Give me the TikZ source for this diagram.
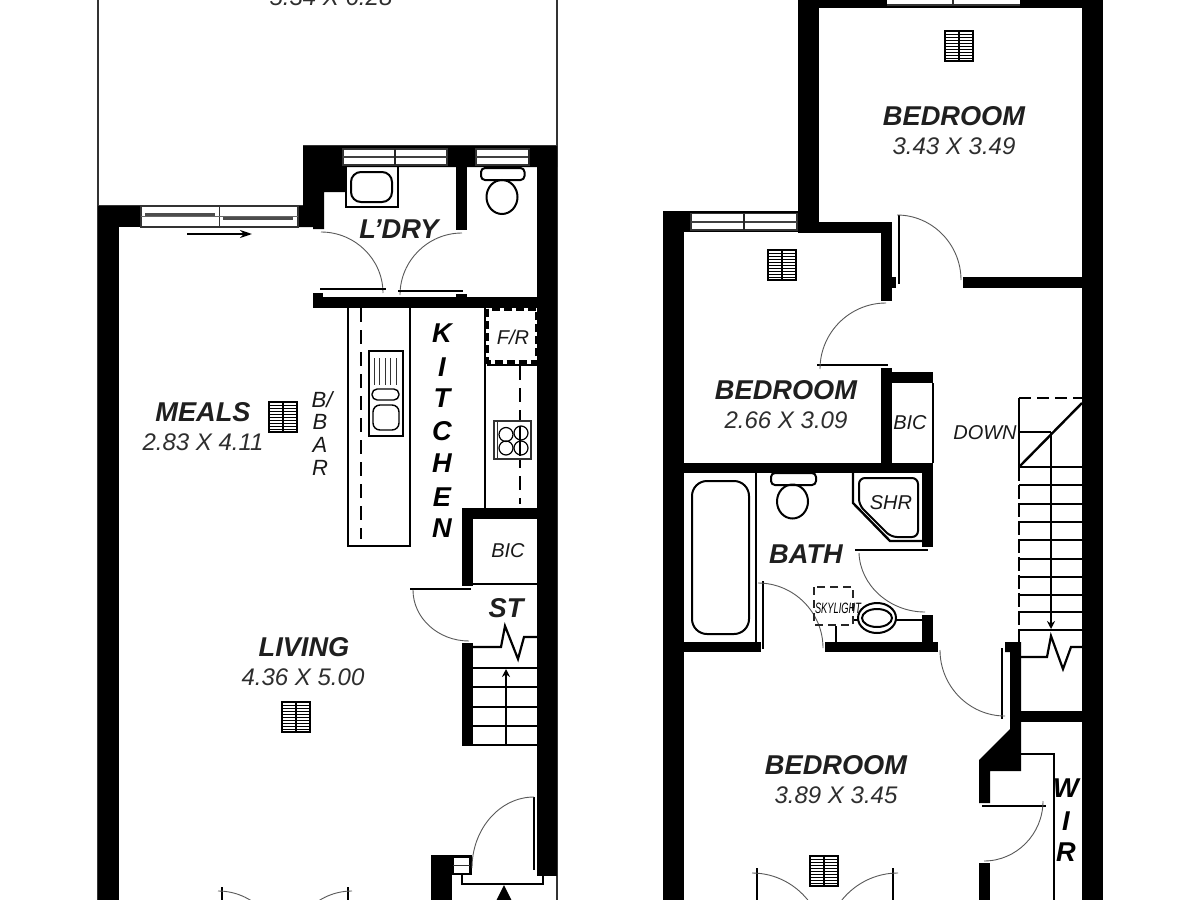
\documentclass[tikz,border=0pt]{standalone}
\usepackage{fontspec}
\setmainfont{Liberation Sans}
\usetikzlibrary{calc,arrows.meta}
\tikzset{
  x=0.5pt,y=-0.5pt,
  wall/.style={fill=black,draw=none},
  med line/.style={draw=black,line width=1pt},
  leaf/.style={draw=black,line width=1.4pt},
  swing/.style={draw=black!65,line width=0.45pt},
  outline/.style={draw=black!80,line width=0.6pt},
  room/.style={font=\fontsize{13.6}{14}\selectfont\bfseries\itshape,text=black!88,inner sep=0pt},
  dims/.style={font=\fontsize{12}{14}\selectfont\itshape,text=black!82,inner sep=0pt},
  small/.style={font=\fontsize{10}{12}\selectfont\itshape,text=black!90,inner sep=0pt},
  upright/.style={font=\fontsize{13.6}{14}\selectfont\bfseries\itshape,text=black,inner sep=0pt},
}
\newcommand{\swingarc}[3]{\draw[swing] (#1) .. controls ($(#1)!0.55!(#2)$) and ($(#3)!0.55!(#2)$) .. (#3);}
\newcommand{\vent}[2]{%
  \begin{scope}[shift={(#1,#2)}]
    \draw[black,line width=0.9pt,fill=white] (0,0) rectangle (28,30);
    \foreach \yy in {3,6,...,27} {\draw[black,line width=0.45pt] (0,\yy) -- (28,\yy);}
    \draw[black,line width=0.8pt] (14,0) -- (14,30);
  \end{scope}}
\newcommand{\winpane}[6]{% x1 y1 x2 y2 xdiv ymid
  \fill[white] (#1,#2) rectangle (#3,#4);
  \draw[outline] (#1,#2) rectangle (#3,#4);
  \draw[black!75,line width=0.8pt] (#1,#6) -- (#3,#6);
  \draw[black!85,line width=0.7pt] (#5,#2) -- (#5,#4);}
\begin{document}
\begin{tikzpicture}
\useasboundingbox (0,0) rectangle (1200,900);
\clip (0,0) rectangle (1200,900);
\fill[white] (0,0) rectangle (1200,900);

% ===== left plan =====
\draw[outline] (98,0) -- (98,900);
\draw[outline] (557,0) -- (557,900);
\draw[outline] (98,206) -- (303,206);
\draw[outline] (303,146) -- (557,146);
\fill[wall] (98,206) rectangle (141,227);
\fill[wall] (98,206) rectangle (119,900);
\fill[wall] (537,146) rectangle (557,876);
\fill[wall] (303,146) -- (557,146) -- (557,167) -- (346,167) -- (346,192) -- (324,192) -- (324,229) -- (313,229) -- (313,227) -- (298,227) -- (298,206) -- (303,206) -- cycle;
\fill[wall] (456,146) rectangle (467,230);
\fill[wall] (313,297) rectangle (538,308);
\fill[wall] (313,293) rectangle (323,297);
\fill[wall] (456,294) rectangle (467,297);
\winpane{343}{149}{447}{165}{395}{157}
\winpane{476}{149}{529}{165}{529}{157}
% sliding door
\draw[outline,fill=white] (141,206) rectangle (298,227);
\draw[outline] (219.5,206) -- (219.5,227);
\draw[black!60,line width=0.4pt] (141,216.5) -- (298,216.5);
\fill[black!70] (145,213) rectangle (215,216);
\fill[black!70] (223,217) rectangle (293,220);
\draw[black,line width=1.1pt,-{Stealth[length=6pt,width=4pt]}] (187,234) -- (252,234);
% laundry fixtures
\draw[black,line width=1.2pt] (346,167) -- (346,207) -- (398,207) -- (398,167);
\draw[med line,rounded corners=5pt] (351,172) rectangle (392,202);
\draw[med line,rounded corners=2pt,fill=white] (481,168) rectangle (524.5,180);
\draw[med line] (502,197) ellipse [x radius=15.5,y radius=17];
\coordinate (ld1p) at (321,232); \coordinate (ld1c) at (383,232); \coordinate (ld1q) at (383,293);
\swingarc{ld1p}{ld1c}{ld1q}
\coordinate (ld2p) at (462,233); \coordinate (ld2c) at (400,233); \coordinate (ld2q) at (400,295);
\swingarc{ld2p}{ld2c}{ld2q}
\draw[leaf] (320,289) -- (386,289);
\draw[leaf] (398,291) -- (463,291);
% kitchen
\draw[med line] (348,308) -- (348,546) -- (410,546) -- (410,308);
\draw[black,line width=1.4pt,dash pattern=on 7pt off 4pt] (361,308) -- (361,539);
\draw[black,line width=1.3pt] (369,351) rectangle (403,436);
\foreach \xx in {374,379,385,390,396} {\draw[black!80,line width=0.5pt] (\xx,358) -- (\xx,385);}
\draw[black,line width=0.7pt,rounded corners=2.6pt] (372,389) rectangle (399,400);
\draw[black,line width=0.7pt,rounded corners=3.5pt] (373,405) rectangle (399,430);
\draw[med line] (485,308) -- (485,510);
\draw[black,line width=1.6pt,dash pattern=on 4pt off 2pt] (487.5,309) rectangle (536.5,362);
\draw[med line] (487,364.5) -- (538,364.5);
\draw[black,line width=1.4pt,dash pattern=on 7pt off 4pt] (520,366) -- (520,504);
\draw[black!80,line width=0.6pt,fill=white] (494,421) rectangle (531,459);
\draw[black!80,line width=0.5pt] (497,421) -- (497,459);
\foreach \cx/\cy in {506/434.5,521/433,506/448,521/448} {\draw[black,line width=0.6pt] (\cx,\cy) circle [radius=7];}
\draw[black,line width=0.9pt] (520,426) -- (520,441) (520,441) -- (520,456);
\fill[wall] (462,508) rectangle (538,519);
\fill[wall] (462,508) rectangle (473,586);
\draw[med line] (473,583.5) -- (538,583.5);
\fill[wall] (462,643) rectangle (473,745);
\draw[leaf] (410,589) -- (471,589);
\coordinate (st1p) at (413,590); \coordinate (st1c) at (413,641); \coordinate (st1q) at (469,641);
\swingarc{st1p}{st1c}{st1q}
\draw[black,line width=1.1pt] (473,647) -- (501,647) -- (505,626) -- (518,659) -- (524,637) -- (538,637);
\foreach \yy in {668,687,707,726,745} {\draw[med line] (462,\yy) -- (538,\yy);}
\draw[med line,-{Stealth[length=4pt,width=4pt]}] (506,745) -- (506,669);
% entrance
\fill[wall] (431,855) rectangle (452,900);
\draw[med line] (452,855.5) -- (471,855.5) -- (471,875);
\draw[med line] (453,857) rectangle (470,874);
\draw[black!80,line width=0.5pt] (453,865.5) -- (470,865.5);
\draw[med line] (462,875) -- (462,883.5) -- (543,883.5) -- (543,876);
\fill[black] (504,885) -- (496,901) -- (512,901) -- cycle;
\draw[leaf] (534,797) -- (534,870);
\coordinate (en1p) at (534,797); \coordinate (en1c) at (472,797); \coordinate (en1q) at (472,868);
\swingarc{en1p}{en1c}{en1q}
% french doors, living
\draw[leaf] (222,887) -- (222,905);
\draw[leaf] (348,887) -- (348,905);
\coordinate (fl1p) at (218,891); \coordinate (fl1c) at (280,891); \coordinate (fl1q) at (280,953);
\swingarc{fl1p}{fl1c}{fl1q}
\coordinate (fl2p) at (352,891); \coordinate (fl2c) at (290,891); \coordinate (fl2q) at (290,953);
\swingarc{fl2p}{fl2c}{fl2q}
\vent{269}{402}
\vent{282}{702}

% ===== right plan =====
\fill[wall] (798,0) rectangle (819,233);
\fill[wall] (798,0) rectangle (1103,8);
\fill[wall] (1082,0) rectangle (1103,900);
\fill[white] (887,0) rectangle (1020,5);
\draw[outline] (887,5) -- (1020,5);
\draw[black!80,line width=0.7pt] (953,0) -- (953,5);
\fill[wall] (798,222) rectangle (892,233);
\fill[wall] (881,222) rectangle (892,301);
\fill[wall] (892,277) rectangle (896,288);
\fill[wall] (963,277) rectangle (1082,288);
\draw[leaf] (899,215) -- (899,284);
\coordinate (tb1p) at (897,215); \coordinate (tb1c) at (961,215); \coordinate (tb1q) at (961,280);
\swingarc{tb1p}{tb1c}{tb1q}
% bedroom 2
\fill[wall] (663,211) rectangle (684,900);
\fill[wall] (663,211) rectangle (800,232);
\winpane{691}{213.5}{797}{230}{744}{222}
\draw[leaf] (817,365) -- (888,365);
\coordinate (b2p) at (886,303); \coordinate (b2c) at (820,303); \coordinate (b2q) at (820,369);
\swingarc{b2p}{b2c}{b2q}
\fill[wall] (881,368) rectangle (892,473);
\fill[wall] (881,372) rectangle (933,383);
\draw[med line] (932.5,383) -- (932.5,463);
\fill[wall] (684,463) rectangle (933,473);
% bath
\fill[wall] (922,473) rectangle (933,547);
\draw[med line] (756,473) -- (756,642);
\draw[med line,rounded corners=7.5pt] (692,481) rectangle (749,634);
\fill[wall] (684,642) rectangle (761,652);
\fill[wall] (825,642) rectangle (938,652);
\draw[leaf] (763,581) -- (763,649);
\coordinate (ba1p) at (758,583); \coordinate (ba1c) at (823,583); \coordinate (ba1q) at (823,648);
\swingarc{ba1p}{ba1c}{ba1q}
\draw[med line,rounded corners=2pt,fill=white] (771,473) rectangle (816,485);
\draw[med line] (792.5,501.5) ellipse [x radius=15.5,y radius=17];
\draw[black,line width=1.2pt] (853,473) -- (853,503) -- (890,541) -- (922,541);
\draw[med line,rounded corners=3pt] (859,478) -- (918,478) -- (918,537) -- (891,537) -- (859,505) -- cycle;
\draw[leaf] (855,550) -- (928,550);
\coordinate (ba2p) at (859,553); \coordinate (ba2c) at (861,612); \coordinate (ba2q) at (925,612);
\swingarc{ba2p}{ba2c}{ba2q}
\fill[wall] (922,615) rectangle (933,642);
\draw[black,line width=1.1pt] (895,620) -- (922,620);
\draw[black,line width=1.1pt] (854,620) -- (860,620);
\draw[black,line width=1.2pt] (836,626) -- (836,642);
\draw[black,line width=1pt,fill=white] (877,618) ellipse [x radius=19,y radius=15];
\draw[med line] (877,618) ellipse [x radius=15,y radius=9];
\draw[black!85,line width=0.9pt,dash pattern=on 4pt off 2.5pt] (814,587) rectangle (853,625);
% stairs
\draw[black,line width=1.2pt] (1019,467) -- (1019,398);
\draw[black,line width=1.2pt,dash pattern=on 6pt off 3pt] (1019,398) -- (1082,398);
\draw[black,line width=1.2pt] (1019,467) -- (1082,403);
\draw[black,line width=1.2pt] (1019,432) -- (1051,432);
\draw[black,line width=1.4pt,dash pattern=on 7pt off 2pt] (1019,467) -- (1019,642);
\foreach \yy in {467,485,504,522,540,559,577,595,612,630} {\draw[black,line width=1.1pt] (1019,\yy) -- (1082,\yy);}
\draw[black,line width=1.1pt,-{Stealth[length=4pt,width=4pt]}] (1051,432) -- (1051,629);
\draw[black,line width=1.1pt] (1020,657) -- (1047,657) -- (1051,636) -- (1063,669) -- (1071,647) -- (1082,647);
\fill[wall] (1005,642) -- (1021,642) -- (1021,771) -- (990,771) -- (990,803) -- (979,803) -- (979,760) -- (1010,729) -- (1010,652) -- (1005,652) -- cycle;
\fill[wall] (1020,711) rectangle (1082,722);
\draw[leaf] (1002,648) -- (1002,719);
\coordinate (sd1p) at (940,650); \coordinate (sd1c) at (940,716); \coordinate (sd1q) at (1005,716);
\swingarc{sd1p}{sd1c}{sd1q}
% WIR / bedroom 3
\draw[med line] (1021,753.5) -- (1054,753.5) -- (1054,900);
\fill[wall] (979,863) rectangle (990,900);
\draw[leaf] (982,806) -- (1046,806);
\coordinate (wr1p) at (1043,801); \coordinate (wr1c) at (1043,861); \coordinate (wr1q) at (984,861);
\swingarc{wr1p}{wr1c}{wr1q}
\draw[leaf] (757,868) -- (757,905);
\draw[leaf] (893,868) -- (893,905);
\coordinate (fr1p) at (752,873); \coordinate (fr1c) at (823.6,873); \coordinate (fr1q) at (823.6,945);
\swingarc{fr1p}{fr1c}{fr1q}
\coordinate (fr2p) at (898,873); \coordinate (fr2c) at (826,873); \coordinate (fr2q) at (826,945);
\swingarc{fr2p}{fr2c}{fr2q}
\vent{945}{31}
\vent{768}{250}
\vent{810}{856}

% ===== text =====
\node[dims] (t0) at (331,-3) {5.34 X 6.28};
\node[room] (tld) at (399,229) {L’DRY};
\node[room] (tme) at (203,412) {MEALS};
\node[dims] (tmd) at (203,442) {2.83 X 4.11};
\node[room] (tli) at (304,647) {LIVING};
\node[dims] (tld2) at (303,677) {4.36 X 5.00};
\node[room] (tst) at (506,608) {ST};
\node[small] (tfr) at (513,337) {F/R};
\node[small] (tbic1) at (508,551) {BIC};
\foreach \ch/\yy/\nm in {K/333/k1,I/367/k2,T/398/k3,C/431/k4,H/463/k5,E/497/k6,N/528/k7}
  {\node[upright] (\nm) at (442,\yy) {\ch};}
\node[small,font=\fontsize{11}{12}\selectfont\itshape] (bb1) at (322,400) {B/};
\node[small,font=\fontsize{11}{12}\selectfont\itshape] (bb2) at (320,422) {B};
\node[small,font=\fontsize{11}{12}\selectfont\itshape] (bb3) at (320,445) {A};
\node[small,font=\fontsize{11}{12}\selectfont\itshape] (bb4) at (320,468) {R};
\node[room] (tb1) at (954,116) {BEDROOM};
\node[dims] (td1) at (954,146) {3.43 X 3.49};
\node[room] (tb2) at (786,390) {BEDROOM};
\node[dims] (td2) at (786,420) {2.66 X 3.09};
\node[room] (tb3) at (836,765) {BEDROOM};
\node[dims] (td3) at (836,795) {3.89 X 3.45};
\node[small] (tbic2) at (910,423) {BIC};
\node[small] (tdown) at (985,433) {DOWN};
\node[small] (tshr) at (891,503) {SHR};
\node[room] (tbath) at (806,554) {BATH};
\node[inner sep=0pt,font=\fontsize{7.5}{9}\selectfont\itshape,xscale=0.62] (tsky) at (838,608) {SKYLIGHT};
\foreach \ch/\yy/\nm in {W/788/w1,I/821/w2,R/852/w3}
  {\node[upright] (\nm) at (1066,\yy) {\ch};}
\end{tikzpicture}
\end{document}
